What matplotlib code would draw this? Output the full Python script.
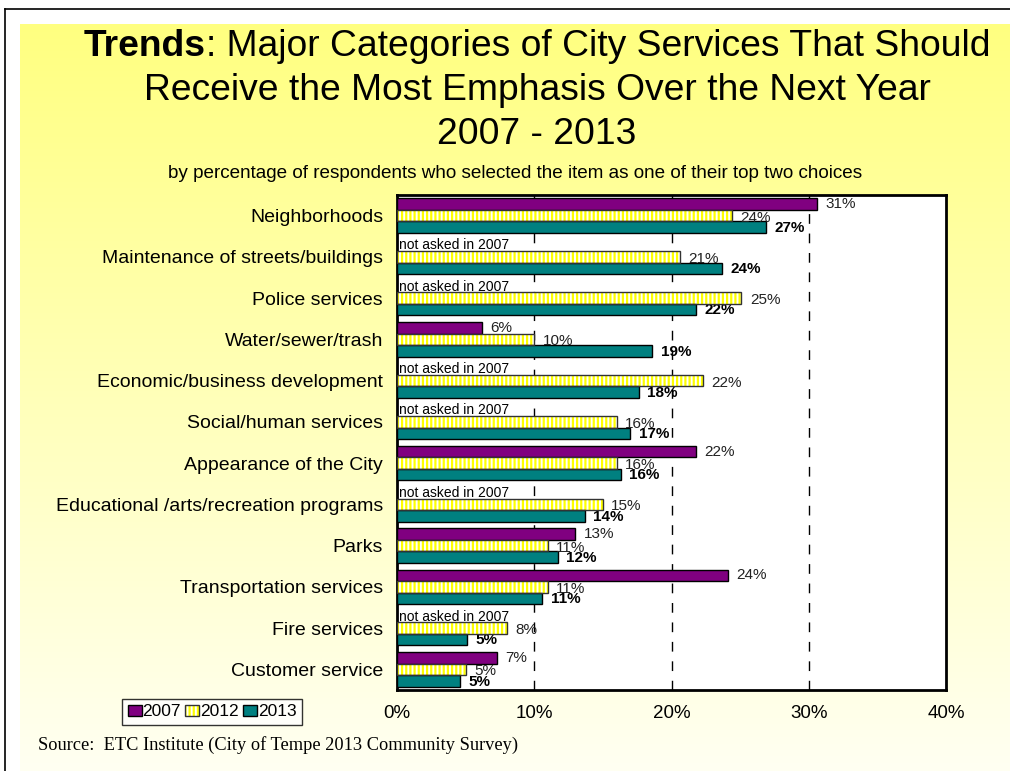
import numpy as np
import matplotlib
matplotlib.use("Agg")
import matplotlib.pyplot as plt
from matplotlib.patches import Patch
from matplotlib.lines import Line2D
from matplotlib.legend_handler import HandlerTuple

plt.rcParams['font.family'] = ['Liberation Sans', 'DejaVu Sans']
plt.rcParams['hatch.linewidth'] = 1.6

categories = [
    "Neighborhoods",
    "Maintenance of streets/buildings",
    "Police services",
    "Water/sewer/trash",
    "Economic/business development",
    "Social/human services",
    "Appearance of the City",
    "Educational /arts/recreation programs",
    "Parks",
    "Transportation services",
    "Fire services",
    "Customer service",
]
y2007 = [30.6, np.nan, np.nan, 6.2, np.nan, np.nan, 21.8, np.nan, 13.0, 24.1, np.nan, 7.3]
y2012 = [24.4, 20.6, 25.1, 10.0, 22.3, 16.0, 16.0, 15.0, 11.0, 11.0, 8.0, 5.0]
y2013 = [26.9, 23.7, 21.8, 18.6, 17.6, 17.0, 16.3, 13.7, 11.7, 10.6, 5.1, 4.6]
xticks = [0, 10, 20, 30, 40]

PURPLE = "#800080"
TEAL = "#008080"
YELLOW = "#FFFF00"

W, H = 1010, 771
fig = plt.figure(figsize=(W / 100, H / 100), dpi=100)
fig.patch.set_facecolor("white")

# yellow panel fading towards the bottom
bg = fig.add_axes([20 / W, 0, 1 - 20 / W, 1 - 24 / H], zorder=-10)
grad = np.linspace(0, 1, 256)[:, None]
top = np.array([255, 255, 128]) / 255
bot = np.array([255, 255, 242]) / 255
img = top[None, None, :] * (1 - grad[..., None]) + bot[None, None, :] * grad[..., None]
bg.imshow(img, aspect="auto", extent=[0, 1, 0, 1])
bg.axis("off")

# thin slide border
fig.add_artist(Line2D([5 / W, 1], [1 - 9 / H, 1 - 9 / H], color="black", lw=1.2))
fig.add_artist(Line2D([5 / W, 5 / W], [0, 1 - 9 / H], color="black", lw=1.2))

# title, first line has a bold lead word
r = fig.canvas.get_renderer()
ty = 1 - 46 / H
t1 = fig.text(0, ty, "Trends", fontsize=26.8, fontweight="bold", va="center")
t2 = fig.text(0, ty, ": Major Categories of City Services That Should", fontsize=26.8, va="center")
w1 = t1.get_window_extent(r).width
w2 = t2.get_window_extent(r).width
x0 = 537 - (w1 + w2) / 2
t1.set_x(x0 / W)
t2.set_x((x0 + w1) / W)
fig.text(537 / W, 1 - 91 / H, "Receive the Most Emphasis Over the Next Year",
         fontsize=26.8, ha="center", va="center")
fig.text(537 / W, 1 - 134 / H, "2007 - 2013", fontsize=26.8, ha="center", va="center")
fig.text(515 / W, 1 - 173 / H,
         "by percentage of respondents who selected the item as one of their top two choices",
         fontsize=13.6, ha="center", va="center")

ax = fig.add_axes([397 / W, 1 - 690 / H, 549 / W, 495 / H])
ax.set_facecolor("white")
pos = np.arange(len(categories))
h = 0.28

ax.barh(pos - h, y2007, height=h, color=PURPLE, edgecolor="black", lw=1, zorder=3)
ax.barh(pos, y2012, height=h, color="white", edgecolor=YELLOW, hatch="||||", lw=0, zorder=3)
ax.barh(pos, y2012, height=h, fill=False, edgecolor="#333333", lw=1, zorder=4)
ax.barh(pos + h, y2013, height=h, color=TEAL, edgecolor="black", lw=1, zorder=3)

for i in pos:
    if np.isnan(y2007[i]):
        ax.text(0.15, i - h, "not asked in 2007", fontsize=10, va="center", ha="left", zorder=5)
    else:
        ax.annotate(f"{y2007[i]:.0f}%", (y2007[i], i - h), xytext=(6, 0),
                    textcoords="offset points", fontsize=11, va="center", color="#222222")
    ax.annotate(f"{y2012[i]:.0f}%", (y2012[i], i), xytext=(6, -1.5),
                textcoords="offset points", fontsize=11, va="center", color="#222222")
    ax.annotate(f"{y2013[i]:.0f}%", (y2013[i], i + h), xytext=(6, -0.5),
                textcoords="offset points", fontsize=11, va="center", fontweight="bold")

for g in xticks[1:-1]:
    ax.axvline(g, color="black", lw=1, ls=(0, (7, 7)), zorder=2)

ax.set_xlim(0, 40)
ax.set_ylim(len(categories) - 0.5, -0.5)
ax.set_xticks(xticks)
ax.set_xticklabels([f"{v}%" for v in xticks], fontsize=13.5)
ax.set_yticks(pos)
ax.set_yticklabels(categories, fontsize=14)
ax.tick_params(axis="both", length=0)
ax.tick_params(axis="x", pad=11)
ax.tick_params(axis="y", pad=10)
for s in ax.spines.values():
    s.set_linewidth(2)
    s.set_color("black")

handles = [
    Patch(facecolor=PURPLE, edgecolor="black", lw=1),
    (Patch(facecolor="white", edgecolor=YELLOW, hatch="||||", lw=0),
     Patch(fill=False, edgecolor="#333333", lw=1)),
    Patch(facecolor=TEAL, edgecolor="black", lw=1),
]
leg = fig.legend(handles, ["2007", "2012", "2013"], loc="center",
                 bbox_to_anchor=(212 / W, 1 - 712 / H), ncol=3, fontsize=12.5,
                 handlelength=0.8, handleheight=0.6, handletextpad=0.05,
                 columnspacing=0.25, borderpad=0.3, borderaxespad=0,
                 fancybox=False,
                 handler_map={tuple: HandlerTuple(ndivide=1)})
leg.get_frame().set_edgecolor("black")
leg.get_frame().set_linewidth(1)

fig.text(38 / W, 1 - 745 / H,
         "Source:  ETC Institute (City of Tempe 2013 Community Survey)",
         fontsize=13.2, family="Liberation Serif", va="center")

fig.savefig("out.png", dpi=100)
